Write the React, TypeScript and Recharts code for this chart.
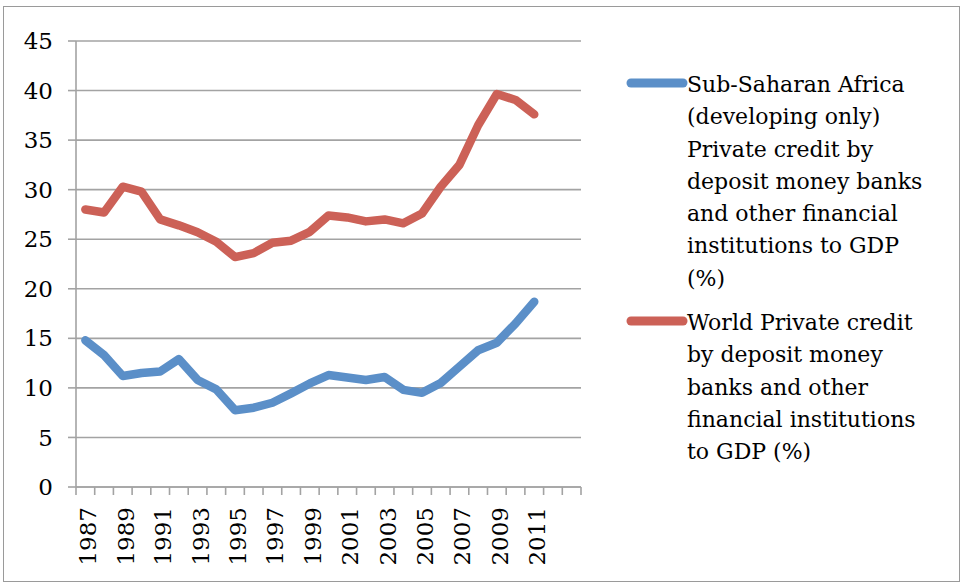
import { LineChart, Line, XAxis, YAxis, CartesianGrid, Legend } from "recharts";

// categories (Excel left two empty slots after the last year)
const years = [
  "1987", "1988", "1989", "1990", "1991", "1992", "1993", "1994", "1995",
  "1996", "1997", "1998", "1999", "2000", "2001", "2002", "2003", "2004",
  "2005", "2006", "2007", "2008", "2009", "2010", "2011", "2012", "2013",
];
const tickYears = [
  "1987", "1989", "1991", "1993", "1995", "1997", "1999",
  "2001", "2003", "2005", "2007", "2009", "2011",
];
const yTicks = [0, 5, 10, 15, 20, 25, 30, 35, 40, 45];

const ssa = [
  14.8, 13.3, 11.2, 11.5, 11.65, 12.9, 10.8, 9.85, 7.75, 8.0, 8.5, 9.45, 10.45,
  11.3, 11.05, 10.8, 11.1, 9.8, 9.5, 10.5, 12.15, 13.8, 14.55, 16.5, 18.7, null, null,
];
const world = [
  28.0, 27.7, 30.3, 29.8, 27.0, 26.4, 25.7, 24.75, 23.2, 23.6, 24.65, 24.85, 25.75,
  27.4, 27.2, 26.8, 27.0, 26.6, 27.6, 30.3, 32.5, 36.5, 39.65, 39.05, 37.6, null, null,
];

const ssaLines = [
  "Sub-Saharan Africa",
  "(developing only)",
  "Private credit by",
  "deposit money banks",
  "and other financial",
  "institutions to GDP",
  "(%)",
];
const worldLines = [
  "World Private credit",
  "by deposit money",
  "banks and other",
  "financial institutions",
  "to GDP (%)",
];

const data = years.map((y, i) => ({ year: y, ssa: ssa[i], world: world[i] }));

const BLUE = "#5B8FC8";
const RED = "#CC6157";
const GRID = "#A3A3A3";
const FONT = "'DejaVu Serif', serif";

const PLOT_LEFT = 76;
const PLOT_RIGHT = 581;
const PLOT_TOP = 41;
const PLOT_BOTTOM = 487;
const BAND = (PLOT_RIGHT - PLOT_LEFT) / years.length;

function XTick(props: any) {
  const { x, y, payload, index } = props;
  const show = tickYears.includes(payload.value);
  const tx = x + 11;
  const ty = y + 20;
  return (
    <g>
      <line x1={x - BAND / 2} x2={x - BAND / 2} y1={y} y2={y + 8} stroke={GRID} strokeWidth={1.6} />
      {index === years.length - 1 && (
        <line x1={x + BAND / 2} x2={x + BAND / 2} y1={y} y2={y + 8} stroke={GRID} strokeWidth={1.6} />
      )}
      {show && (
        <text
          x={tx}
          y={ty}
          transform={`rotate(-90, ${tx}, ${ty})`}
          textAnchor="end"
          fontSize={23}
          fontFamily={FONT}
          fill="#000"
        >
          {payload.value}
        </text>
      )}
    </g>
  );
}

function LegendBox() {
  const items = [
    { color: BLUE, lines: ssaLines },
    { color: RED, lines: worldLines },
  ];
  return (
    <div style={{ fontFamily: FONT, fontSize: 22, lineHeight: "32.3px", color: "#000" }}>
      {items.map((it, i) => (
        <div key={i} style={{ position: "relative", paddingLeft: 61, marginBottom: 12 }}>
          <svg width={62} height={12} style={{ position: "absolute", left: 0, top: 8 }}>
            <line x1={5} x2={57} y1={6} y2={6} stroke={it.color} strokeWidth={9} strokeLinecap="round" />
          </svg>
          {it.lines.map((l, j) => (
            <div key={j} style={{ whiteSpace: "nowrap" }}>{l}</div>
          ))}
        </div>
      ))}
    </div>
  );
}

export default function App() {
  return (
    <div style={{ position: "absolute", left: 0, top: 0, width: 963, height: 584, background: "#fff" }}>
      <div
        style={{
          position: "absolute",
          left: 3,
          top: 6,
          width: 957,
          height: 576,
          border: "1.5px solid #9a9a9a",
          boxSizing: "border-box",
        }}
      />
      <LineChart
        width={963}
        height={584}
        data={data}
        margin={{ top: PLOT_TOP, right: 963 - PLOT_RIGHT, bottom: 584 - PLOT_BOTTOM - 60, left: 0 }}
      >
        <CartesianGrid horizontal vertical={false} stroke={GRID} strokeWidth={1.6} />
        <XAxis
          dataKey="year"
          height={60}
          interval={0}
          padding={{ left: BAND / 2, right: BAND / 2 }}
          tickLine={false}
          tickSize={0}
          tickMargin={0}
          axisLine={{ stroke: GRID, strokeWidth: 1.6 }}
          tick={<XTick />}
        />
        <YAxis
          width={PLOT_LEFT}
          domain={[0, 45]}
          ticks={yTicks}
          interval={0}
          tickSize={8}
          tickMargin={15}
          axisLine={{ stroke: GRID, strokeWidth: 1.6 }}
          tickLine={{ stroke: GRID, strokeWidth: 1.6 }}
          tick={{ fill: "#000", fontSize: 23, fontFamily: FONT }}
        />
        <Legend
          layout="horizontal"
          verticalAlign="middle"
          align="center"
          wrapperStyle={{ left: 626, top: 69, width: 330 }}
          content={<LegendBox />}
        />
        <Line
          type="linear"
          dataKey="ssa"
          stroke={BLUE}
          strokeWidth={8.5}
          strokeLinecap="round"
          strokeLinejoin="round"
          dot={false}
          isAnimationActive={false}
        />
        <Line
          type="linear"
          dataKey="world"
          stroke={RED}
          strokeWidth={8.5}
          strokeLinecap="round"
          strokeLinejoin="round"
          dot={false}
          isAnimationActive={false}
        />
      </LineChart>
    </div>
  );
}
